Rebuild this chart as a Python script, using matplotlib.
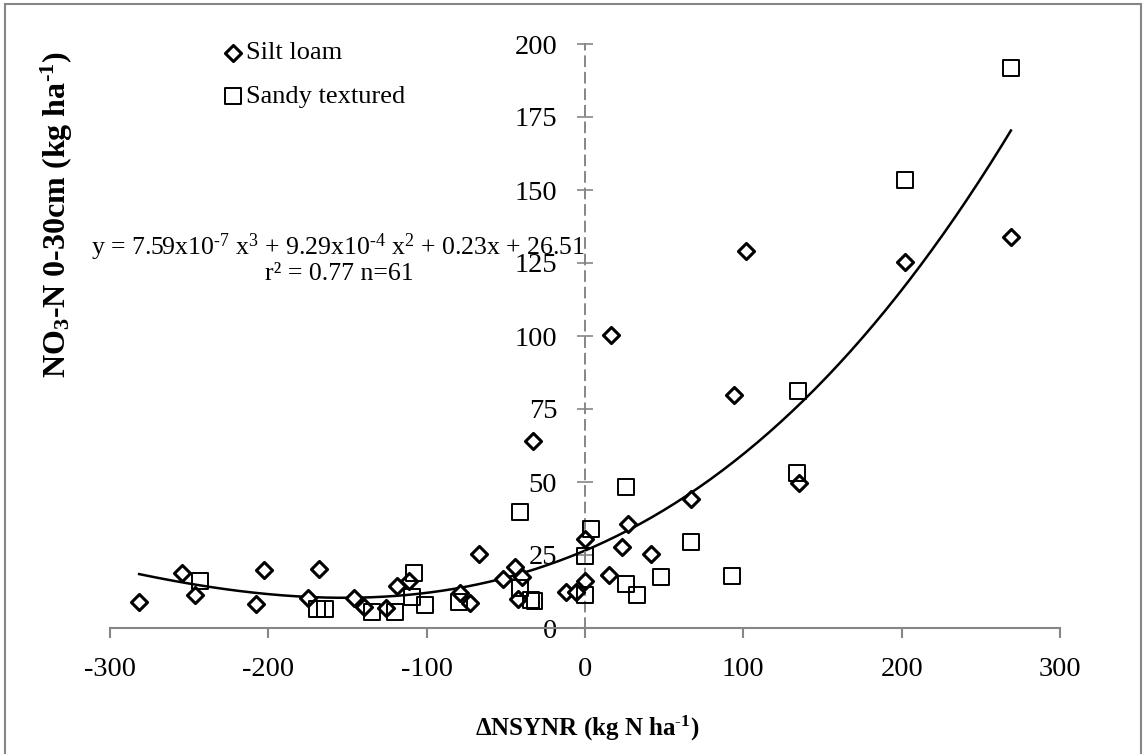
import numpy as np
import matplotlib.pyplot as plt
from matplotlib.patches import Rectangle

plt.rcParams['font.family'] = ['Liberation Serif', 'DejaVu Serif']
plt.rcParams['mathtext.fontset'] = 'custom'
plt.rcParams['mathtext.rm'] = 'Liberation Serif'
plt.rcParams['mathtext.it'] = 'Liberation Serif:italic'
plt.rcParams['mathtext.bf'] = 'Liberation Serif:bold'
plt.rcParams['mathtext.default'] = 'regular'
plt.rcParams['axes.unicode_minus'] = False

# silt loam points (delta NSYNR, NO3-N)
silt_x = [-281.6, -254.6, -246, -203, -208, -167.8, -175, -146, -139.8, -126,
          -118.7, -111, -79.1, -72.8, -67.1, -52.1, -43.9, -39.7, -42.2, -33,
          -11.7, -6, -0.3, -0.3, 15, 23.1, 27.1, 41.8, 66.7, 94.1,
          135.2, 16.4, 101.5, 202, 269]
silt_y = [9.0, 18.7, 11.3, 19.9, 8.1, 20.1, 10.4, 10.2, 7.1, 6.7,
          14.4, 16.2, 11.9, 8.7, 25.3, 16.7, 21.0, 17.6, 9.9, 64.0,
          12.4, 12.4, 16.2, 30.4, 18.2, 27.8, 35.6, 25.2, 44.1, 79.8,
          49.8, 100.3, 129.1, 125.2, 134]

# sandy textured points
sandy_x = [-243, -169.3, -164, -134.5, -120.2, -108.2, -109.2, -101.2, -79.8, -40.8,
           -41.2, -34.4, -31.9, -0.3, 0.3, 3.9, 26, 26, 33, 47.7,
           66.7, 93, 134.8, 134.1, 202.1, 269]
sandy_y = [16.2, 6.4, 6.4, 5.6, 5.4, 18.9, 10.7, 7.8, 9.0, 39.8,
           13.6, 9.6, 9.3, 11.3, 24.7, 33.8, 48.4, 15.1, 11.3, 17.6,
           29.6, 17.9, 81.3, 53.2, 153.4, 191.7]

# cubic fit coefficients (highest power first)
coef = [7.59e-7, 9.29e-4, 0.23, 26.51]

x_ticks = [-300, -200, -100, 0, 100, 200, 300]
y_ticks = [0, 25, 50, 75, 100, 125, 150, 175, 200]

fig = plt.figure(figsize=(11.47, 7.54), dpi=100)
ax = fig.add_axes([110/1147, 1-628/754, 950/1147, 584/754])

grey = '#868686'

ax.scatter(silt_x, silt_y, marker='D', s=8.2**2, facecolors='white',
           edgecolors='black', linewidths=2.2, label='Silt loam', zorder=3)
ax.scatter(sandy_x, sandy_y, marker='s', s=11.5**2, facecolors='none',
           edgecolors='black', linewidths=1.4, label='Sandy textured', zorder=3)

xs = np.linspace(min(silt_x + sandy_x), max(silt_x + sandy_x), 300)
ax.plot(xs, np.polyval(coef, xs), color='black', lw=1.8, zorder=2)

ax.set_xlim(-300, 300)
ax.set_ylim(0, 200)
ax.set_xticks(x_ticks)
ax.set_yticks(y_ticks)

ax.spines['top'].set_visible(False)
ax.spines['right'].set_visible(False)
ax.spines['left'].set_position(('data', 0))
ax.spines['left'].set_color(grey)
ax.spines['left'].set_linestyle((0, (5, 3.5)))
ax.spines['left'].set_linewidth(1.4)
ax.spines['bottom'].set_color(grey)
ax.spines['bottom'].set_linewidth(1.5)

ax.tick_params(axis='x', direction='out', length=7, width=1.5, color=grey,
               labelsize=20.5, pad=14)
ax.tick_params(axis='y', direction='inout', length=12, width=1.2, color=grey,
               labelsize=20.5, pad=14)

fig.text(57/1147, 1-215/754, r'NO$_\mathbf{3}$-N 0-30cm (kg ha$^\mathbf{\text{-}1}$)',
         rotation=90, ha='center', va='center', fontsize=23, fontweight='bold')
fig.text(587/1147, 1-728/754, r'$\mathbf{\Delta}$NSYNR (kg N ha$^\mathbf{\text{-}1}$)',
         ha='center', va='center', fontsize=18, fontweight='bold')

fig.text(338/1147, 1-247/754,
         r'y = 7.59x10$^{\text{-}7}$ x$^{3}$ + 9.29x10$^{\text{-}4}$ x$^{2}$ + 0.23x + 26.51',
         ha='center', va='center', fontsize=18.5)
fig.text(339/1147, 1-274/754, r'r² = 0.77 n=61',
         ha='center', va='center', fontsize=18.5)

ax.legend(loc='upper left', bbox_to_anchor=(220/1147, 1-41/754),
          bbox_transform=fig.transFigure, frameon=False, fontsize=19,
          handletextpad=0.0, handlelength=1.0, labelspacing=0.75,
          borderaxespad=0, borderpad=0)

fig.add_artist(Rectangle((5/1147, -0.05), 1136/1147, 1.05 - 4/754,
                         transform=fig.transFigure, fill=False,
                         edgecolor=grey, lw=1.5))

fig.savefig('out.png', dpi=100)
